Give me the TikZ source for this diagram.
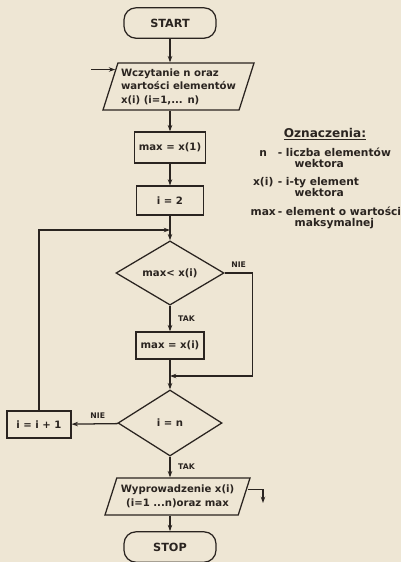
\documentclass[tikz,border=0pt]{standalone}
\usepackage{fontspec}
\setmainfont{DejaVu Sans}
\usepackage{xcolor}
\usepackage{tikz}
\usetikzlibrary{shapes.geometric,positioning,arrows.meta,calc}
\definecolor{paper}{RGB}{238,230,212}
\definecolor{ink}{RGB}{42,36,32}

\begin{document}
\begin{tikzpicture}[
    x=0.025cm, y=-0.025cm, line width=0.9pt, color=ink,
    font=\bfseries\fontsize{7.2}{9.6}\selectfont,
    term/.style={draw, rectangle, rounded corners=0.3cm, minimum width=2.3cm, minimum height=0.76cm, font=\bfseries\fontsize{8}{9}\selectfont},
    box/.style={draw, rectangle, minimum width=1.67cm, minimum height=0.72cm},
    io/.style={draw, trapezium, trapezium stretches body, inner sep=1pt},
    cond/.style={draw, diamond, inner sep=0pt},
    arrow/.style={-{Stealth[length=4.5pt,width=3.2pt]}},
    lbl/.style={font=\bfseries\fontsize{5.5}{6}\selectfont}
]
    \fill[paper] (0,0) rectangle (401,562);
    \useasboundingbox (0,0) rectangle (401,562);

    \node[term] (start) at (170,23) {START};

    \node[io, trapezium left angle=69, trapezium right angle=111, minimum width=3.775cm, minimum height=1.175cm, align=left] (read) at (178.5,86.5) {
        Wczytanie n oraz \\
        wartości elementów \\
        x(i) (i=1,... n)
    };

    \node[box, minimum height=0.775cm] (init) at (170,147.5) {max = x(1)};
    \node[box] (i2) at (170,200.5) {i = 2};

    \node[cond, minimum width=2.7cm, minimum height=1.5cm] (dec1) at (170,273) {max< x(i)};
    \node[box, minimum width=1.65cm, minimum height=0.675cm] (upd) at (170,345.5) {max = x(i)};

    \node[cond, minimum width=2.6cm, minimum height=1.65cm] (dec2) at (170,423) {i = n};
    \node[box, minimum width=1.6cm, minimum height=0.675cm] (inc) at (39,424.5) {i = i + 1};

    \node[io, trapezium left angle=65, trapezium right angle=115, minimum width=3.625cm, minimum height=0.925cm, align=center] (out) at (177.5,496.5) {
        Wyprowadzenie x(i) \\
        (i=1 ...n)oraz max
    };

    \node[term] (stop) at (170,547) {STOP};

    \node[font=\bfseries\fontsize{8.6}{9}\selectfont] (legtitle) at (325,134) {\underline{Oznaczenia:}};
    \node[anchor=north west, inner sep=0pt, font=\bfseries\fontsize{7.6}{7.2}\selectfont] (legend) at (250,147) {
        \begin{tabular}{@{}c@{\hspace{1.5pt}}c@{\hspace{2.5pt}}l@{}}
            n & - & liczba elementów \\
              &   & \hspace{2.2mm}wektora \\[5pt]
            x(i) & - & i-ty element \\
              &   & \hspace{2.2mm}wektora \\[5pt]
            max & - & element o wartości \\
              &   & \hspace{2.2mm}maksymalnej
        \end{tabular}
    };

    \coordinate (feed) at ([xshift=-0.6cm]read.165);
    \coordinate (loop) at (170,230);
    \coordinate (merge) at (170,376);
    \coordinate (outend) at (263,503);

    \draw[arrow] (feed) -- (read.165);
    \draw[arrow] (start) -- (start |- read.north);
    \draw[arrow] (init |- read.south) -- (init);
    \draw[arrow] (init) -- (i2);
    \draw[arrow] (i2) -- (dec1);
    \draw[arrow] (inc) |- (loop);
    \draw[arrow] (dec1) -- (upd) node[lbl, midway, right, xshift=2pt] {TAK};
    \draw[arrow] (dec1.east) -- ++(28,0) node[lbl, midway, above] {NIE} |- (merge);
    \draw[arrow] (upd) -- (dec2);
    \draw[arrow] (dec2) -- (inc) node[lbl, midway, above, xshift=2pt] {NIE};
    \draw[arrow] (dec2) -- (dec2 |- out.north) node[lbl, midway, right, xshift=2pt] {TAK};
    \draw[arrow] ([xshift=0.08cm,yshift=0.17cm]out.east) -| (outend);
    \draw[arrow] (stop |- out.south) -- (stop);

\end{tikzpicture}
\end{document}
